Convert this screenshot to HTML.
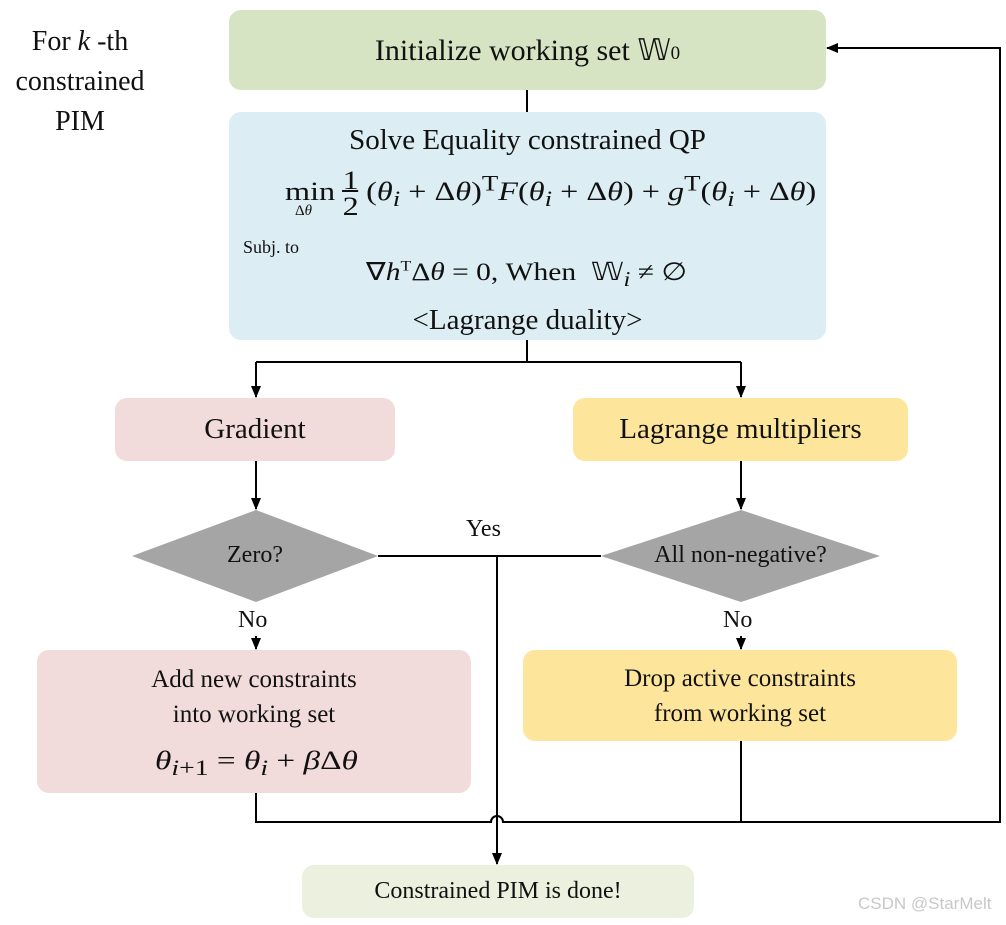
<!DOCTYPE html>
<html><head><meta charset="utf-8"><style>
body{margin:0;background:#fff;width:1006px;height:925px;overflow:hidden;position:relative;font-family:"Liberation Serif",serif;color:#111}
.b{position:absolute;border-radius:12px;display:flex;align-items:center;justify-content:center;text-align:center}
.t{position:absolute;white-space:nowrap}
i{font-style:italic}
</style></head><body>
<svg width="1006" height="925" style="position:absolute;left:0;top:0">
<defs><marker id="a" markerWidth="12" markerHeight="12" refX="11" refY="6" orient="auto" markerUnits="userSpaceOnUse"><path d="M0,1 L12,6 L0,11z" fill="#000"/></marker></defs>
<g stroke="#000" stroke-width="2" fill="none">
<line x1="527" y1="90" x2="527" y2="112"/>
<line x1="527" y1="340" x2="527" y2="362"/>
<line x1="256" y1="362" x2="741" y2="362"/>
<line x1="256" y1="362" x2="256" y2="397" marker-end="url(#a)"/>
<line x1="741" y1="362" x2="741" y2="397" marker-end="url(#a)"/>
<line x1="256" y1="461" x2="256" y2="509" marker-end="url(#a)"/>
<line x1="741" y1="461" x2="741" y2="509" marker-end="url(#a)"/>
<line x1="378" y1="556" x2="601" y2="556"/>
<line x1="497" y1="556" x2="497" y2="864" marker-end="url(#a)"/>
<line x1="256" y1="636" x2="256" y2="649" marker-end="url(#a)"/>
<line x1="741" y1="636" x2="741" y2="649" marker-end="url(#a)"/>
<path d="M256,793 V822 H491 A6,6 0 0 1 503,822 H1000 V48 H827" marker-end="url(#a)"/>
<line x1="741" y1="741" x2="741" y2="822"/>
</g>
<polygon points="132,556 256,510 378,556 256,602" fill="#a5a5a5"/>
<polygon points="601,556 741,510 880,556 741,602" fill="#a5a5a5"/>
</svg>
<div class="b" style="left:229px;top:10px;width:597px;height:80px;background:#d6e4c3;font-size:30px">Initialize working set&nbsp;𝕎<sub style="font-size:19px;position:relative;top:4px">0</sub></div>
<div class="b" style="left:229px;top:112px;width:597px;height:228px;background:#dcedf3"></div>
<div class="t" style="left:229px;width:597px;text-align:center;top:124px;font-size:29px">Solve Equality constrained QP</div>
<div class="t" style="left:285px;top:168px;font-size:26px;transform:scaleX(1.24);transform-origin:0 0">min<span style="display:inline-block;vertical-align:middle;text-align:center;line-height:26px;margin:0 6px">1<br><span style="border-top:2px solid #111">2</span></span>(<i>θ<sub>i</sub></i> + Δ<i>θ</i>)<sup>T</sup><i>F</i>(<i>θ<sub>i</sub></i> + Δ<i>θ</i>) + <i>g</i><sup>T</sup>(<i>θ<sub>i</sub></i> + Δ<i>θ</i>)</div>
<div class="t" style="left:295px;top:203px;font-size:15px">Δ<i>θ</i></div>
<div class="t" style="left:243px;top:237px;font-size:18px">Subj. to</div>
<div class="t" style="left:366px;top:257px;font-size:25px;transform:scaleX(1.18);transform-origin:0 0">∇<i>h</i><sup style="font-size:15px">T</sup>Δ<i>θ</i> = 0, When&nbsp; 𝕎<sub><i>i</i></sub> ≠ ∅</div>
<div class="t" style="left:229px;width:597px;text-align:center;top:304px;font-size:29px">&lt;Lagrange duality&gt;</div>
<div class="b" style="left:115px;top:398px;width:280px;height:63px;background:#f2dcdb;font-size:29px">Gradient</div>
<div class="b" style="left:573px;top:398px;width:335px;height:63px;background:#fde69b;font-size:29px">Lagrange multipliers</div>
<div class="t" style="left:132px;width:246px;text-align:center;top:542px;font-size:24px">Zero?</div>
<div class="t" style="left:601px;width:279px;text-align:center;top:542px;font-size:24px">All non-negative?</div>
<div class="t" style="left:466px;top:516px;font-size:24px">Yes</div>
<div class="t" style="left:238px;top:607px;font-size:24px">No</div>
<div class="t" style="left:723px;top:607px;font-size:24px">No</div>
<div class="b" style="left:37px;top:650px;width:434px;height:143px;background:#f2dcdb"></div>
<div class="t" style="left:37px;width:434px;text-align:center;top:662px;font-size:25px;line-height:35px">Add new constraints<br>into working set</div>
<div class="t" style="left:155px;top:746px;font-size:26px;transform:scaleX(1.28);transform-origin:0 0"><i>θ</i><sub><i>i</i>+1</sub> = <i>θ<sub>i</sub></i> + <i>β</i>Δ<i>θ</i></div>
<div class="b" style="left:523px;top:650px;width:434px;height:91px;background:#fde69b;font-size:25px;line-height:35px">Drop active constraints<br>from working set</div>
<div class="b" style="left:302px;top:865px;width:392px;height:53px;background:#ebf1de;font-size:24px">Constrained PIM is done!</div>
<div class="t" style="left:0;width:160px;text-align:center;top:22px;font-size:28px;line-height:40px">For <i>k</i> -th<br>constrained<br>PIM</div>
<div class="t" style="left:858px;top:894px;font-size:17px;color:#c8c8c8;font-family:'Liberation Sans',sans-serif">CSDN @StarMelt</div>
</body></html>
